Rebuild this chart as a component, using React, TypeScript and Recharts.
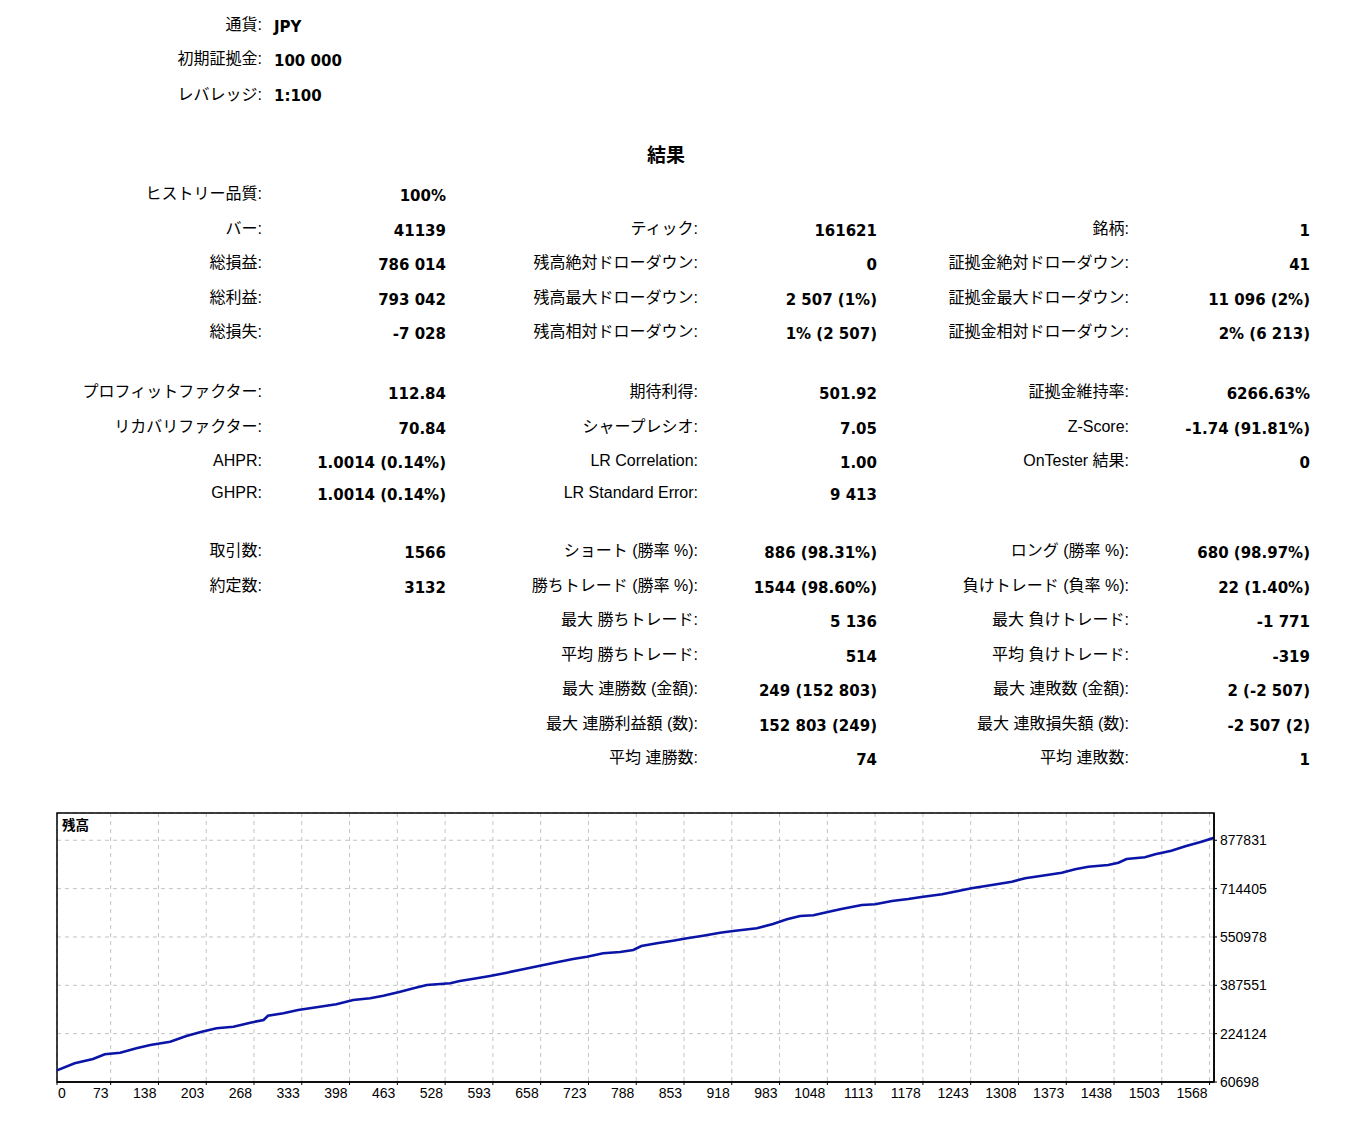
import React from "react";
import { LineChart, Line, XAxis, YAxis, CartesianGrid, ReferenceArea } from "recharts";

// ---------- data ----------
const tradeIdx = [
  0, 24, 49, 65, 86, 108, 127, 154, 176, 197, 217, 240, 263, 281, 287, 308, 328, 353, 380, 403,
  426, 444, 467, 485, 503, 535, 548, 571, 589, 612, 634, 657, 680, 702, 721, 743, 766, 784, 795,
  816, 838, 857, 879, 902, 920, 952, 974, 993, 1011, 1029, 1047, 1067, 1095, 1113, 1136, 1158,
  1176, 1204, 1226, 1244, 1272, 1299, 1317, 1340, 1367, 1385, 1403, 1430, 1444, 1455, 1480, 1494,
  1516, 1535, 1557, 1574,
];
const balance = [
  100000, 123900, 138400, 154300, 159700, 174600, 185800, 196900, 216200, 230700, 242200, 247600,
  261200, 270300, 284800, 292900, 304100, 313200, 323300, 337900, 343600, 352400, 365900, 377400,
  388600, 394300, 402100, 411200, 419000, 430200, 441700, 453800, 465300, 476500, 484300, 495700,
  500100, 506900, 520400, 529500, 538300, 546400, 555200, 565400, 571100, 580300, 594800, 610700,
  621800, 624200, 634300, 645500, 659000, 661400, 672500, 679300, 686100, 695200, 706300, 715500,
  726600, 737800, 749300, 758100, 768200, 779700, 788500, 794200, 802000, 814500, 820300, 830400,
  842600, 857400, 873000, 886014,
];
const xTicks = [
  0, 73, 138, 203, 268, 333, 398, 463, 528, 593, 658, 723, 788, 853, 918, 983, 1048, 1113, 1178,
  1243, 1308, 1373, 1438, 1503, 1568,
];
const yTicks = [60698, 224124, 387551, 550978, 714405, 877831];
const xDomain = [0, 1574];
const yDomain = [60698, 970000];

const headerLabels = ["通貨:", "初期証拠金:", "レバレッジ:"];
const headerValues = ["JPY", "100 000", "1:100"];

const col1Labels = [
  "ヒストリー品質:", "バー:", "総損益:", "総利益:", "総損失:",
  "プロフィットファクター:", "リカバリファクター:", "AHPR:", "GHPR:",
  "取引数:", "約定数:", "", "", "", "", "",
];
const col1Values = [
  "100%", "41139", "786 014", "793 042", "-7 028",
  "112.84", "70.84", "1.0014 (0.14%)", "1.0014 (0.14%)",
  "1566", "3132", "", "", "", "", "",
];
const col2Labels = [
  "", "ティック:", "残高絶対ドローダウン:", "残高最大ドローダウン:", "残高相対ドローダウン:",
  "期待利得:", "シャープレシオ:", "LR Correlation:", "LR Standard Error:",
  "ショート (勝率 %):", "勝ちトレード (勝率 %):", "最大 勝ちトレード:", "平均 勝ちトレード:",
  "最大 連勝数 (金額):", "最大 連勝利益額 (数):", "平均 連勝数:",
];
const col2Values = [
  "", "161621", "0", "2 507 (1%)", "1% (2 507)",
  "501.92", "7.05", "1.00", "9 413",
  "886 (98.31%)", "1544 (98.60%)", "5 136", "514",
  "249 (152 803)", "152 803 (249)", "74",
];
const col3Labels = [
  "", "銘柄:", "証拠金絶対ドローダウン:", "証拠金最大ドローダウン:", "証拠金相対ドローダウン:",
  "証拠金維持率:", "Z-Score:", "OnTester 結果:", "",
  "ロング (勝率 %):", "負けトレード (負率 %):", "最大 負けトレード:", "平均 負けトレード:",
  "最大 連敗数 (金額):", "最大 連敗損失額 (数):", "平均 連敗数:",
];
const col3Values = [
  "", "1", "41", "11 096 (2%)", "2% (6 213)",
  "6266.63%", "-1.74 (91.81%)", "0", "",
  "680 (98.97%)", "22 (1.40%)", "-1 771", "-319",
  "2 (-2 507)", "-2 507 (2)", "1",
];
const rowY = [196, 231, 265, 300, 334, 394, 429, 463, 495, 553, 588, 622, 657, 691, 726, 760];

const chartData = tradeIdx.map((t, i) => ({ trade: t, balance: balance[i] }));

// ---------- styles ----------
const LABEL_FONT = "'Liberation Sans', 'Noto Sans CJK JP', sans-serif";
const VALUE_FONT = "'DejaVu Sans', 'Noto Sans CJK JP', sans-serif";
const AXIS_FONT = "'Liberation Sans', Arial, sans-serif";

const labelStyle = (rightX: number, cy: number): React.CSSProperties => ({
  position: "absolute",
  left: rightX - 400,
  width: 400,
  top: cy - 11,
  height: 22,
  lineHeight: "22px",
  textAlign: "right",
  fontFamily: LABEL_FONT,
  fontSize: 16,
  color: "#000",
  whiteSpace: "nowrap",
});
const valueStyle = (rightX: number, cy: number): React.CSSProperties => ({
  position: "absolute",
  left: rightX - 300,
  width: 300,
  top: cy - 11,
  height: 22,
  lineHeight: "22px",
  textAlign: "right",
  fontFamily: VALUE_FONT,
  fontWeight: "bold",
  fontSize: 15,
  color: "#000",
  whiteSpace: "nowrap",
});

const XTick = (props: any) => {
  const { x, y, payload } = props;
  const first = payload.value === 0;
  return (
    <text
      x={first ? x + 1 : x - 2}
      y={y}
      dy="0.71em"
      textAnchor={first ? "start" : "end"}
      fontSize={14}
      fontFamily={AXIS_FONT}
      fill="#000"
    >
      {payload.value}
    </text>
  );
};

const columns = [
  { lx: 262, vx: 446, labels: col1Labels, values: col1Values },
  { lx: 698, vx: 877, labels: col2Labels, values: col2Values },
  { lx: 1129, vx: 1310, labels: col3Labels, values: col3Values },
];

export default function App() {
  return (
    <div
      style={{
        position: "absolute",
        left: 0,
        top: 0,
        width: 1358,
        height: 1126,
        background: "#fff",
        overflow: "hidden",
      }}
    >
      {headerLabels.map((l, i) => (
        <div key={"hl" + i} style={labelStyle(262, [25, 59, 95][i])}>
          {l}
        </div>
      ))}
      {headerValues.map((v, i) => (
        <div
          key={"hv" + i}
          style={{
            ...valueStyle(0, [27, 61, 96][i]),
            left: 274,
            textAlign: "left",
          }}
        >
          {v}
        </div>
      ))}
      <div
        style={{
          position: "absolute",
          left: 566,
          width: 200,
          top: 144,
          height: 24,
          lineHeight: "24px",
          textAlign: "center",
          fontFamily: LABEL_FONT,
          fontWeight: "bold",
          fontSize: 19,
        }}
      >
        結果
      </div>
      {columns.map((c, ci) =>
        rowY.map((y, ri) => (
          <React.Fragment key={ci + "-" + ri}>
            {c.labels[ri] && <div style={labelStyle(c.lx, y - 2)}>{c.labels[ri]}</div>}
            {c.values[ri] && <div style={valueStyle(c.vx, y)}>{c.values[ri]}</div>}
          </React.Fragment>
        ))
      )}

      <div style={{ position: "absolute", left: 0, top: 800 }}>
        <LineChart
          width={1358}
          height={326}
          data={chartData}
          margin={{ top: 13, right: 80, bottom: 18, left: 57 }}
        >
          <CartesianGrid stroke="#c4c4c4" strokeDasharray="4 4" />
          <XAxis
            dataKey="trade"
            type="number"
            domain={xDomain}
            ticks={xTicks}
            interval={0}
            tick={<XTick />}
            tickSize={3}
            tickMargin={3}
            axisLine={{ stroke: "#000", strokeWidth: 1.5 }}
            tickLine={{ stroke: "#000" }}
            height={26}
            allowDataOverflow
          />
          <YAxis
            orientation="right"
            type="number"
            domain={yDomain}
            ticks={yTicks}
            interval={0}
            width={64}
            tickSize={3}
            tickMargin={3}
            allowDataOverflow
            tick={{ fontSize: 14, fill: "#000", fontFamily: AXIS_FONT }}
            axisLine={{ stroke: "#000", strokeWidth: 1.5 }}
            tickLine={{ stroke: "#000" }}
          />
          <ReferenceArea
            x1={xDomain[0]}
            x2={xDomain[1]}
            y1={yDomain[0]}
            y2={yDomain[1]}
            fill="none"
            fillOpacity={0}
            stroke="#000"
            strokeWidth={1.5}
            ifOverflow="visible"
          />
          <Line
            dataKey="balance"
            stroke="#0a14a6"
            strokeWidth={2.6}
            dot={false}
            isAnimationActive={false}
          />
        </LineChart>
      </div>
      <div
        style={{
          position: "absolute",
          left: 62,
          top: 817,
          fontFamily: LABEL_FONT,
          fontWeight: "bold",
          fontSize: 13.5,
          lineHeight: "18px",
        }}
      >
        残高
      </div>
    </div>
  );
}
